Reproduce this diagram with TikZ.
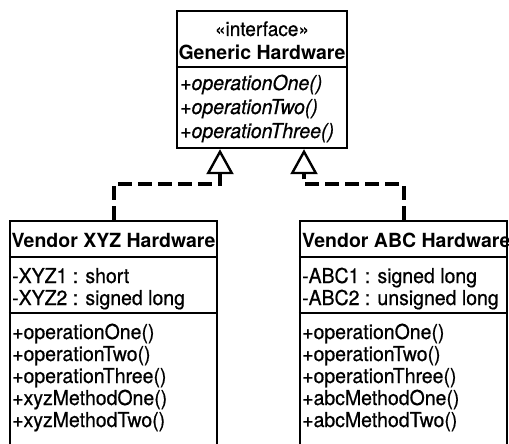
\documentclass[tikz,border=0pt]{standalone}
\usepackage{fontspec}
\setmainfont{TeX Gyre Heros}
\newfontfamily\memberfont{TeX Gyre Heros}[FakeStretch=0.95, FakeBold=0.6]
\usetikzlibrary{arrows.meta}

\tikzset{
  classbox/.style={draw, line width=2.4pt, inner sep=0pt, rectangle},
  divider/.style={line width=2pt},
  member/.style={anchor=base west, inner sep=0pt, font=\memberfont\fontsize{20.5}{23}\selectfont},
  opitalic/.style={member, font=\memberfont\fontsize{20.5}{23}\selectfont\itshape},
  titletext/.style={anchor=base, inner sep=0pt, font=\fontsize{19.5}{22}\selectfont\bfseries},
  stereo/.style={anchor=base, inner sep=0pt, font=\memberfont\fontsize{20}{22}\selectfont},
  realize/.style={line width=4pt, dash pattern=on 14pt off 6pt,
    -{Triangle[open, length=25pt, width=27pt, line width=2.4pt]}},
}

\begin{document}
\begin{tikzpicture}[x=1pt, y=-1pt]
\useasboundingbox (0,0) rectangle (509,444);
\clip (0,0) rectangle (509,444);

% interface class
\node[classbox, minimum width=170pt, minimum height=137pt] (gen) at (262,79.5) {};
\path (0,67) coordinate (gdiv);
\draw[divider] (gen.west |- gdiv) -- (gen.east |- gdiv);
\node[stereo] (gster) at (262,36) {«interface»};
\node[titletext] (gname) at (262,60) {Generic Hardware};
\node[opitalic] (gop1) at (180,90) {+operationOne()};
\node[opitalic] (gop2) at (180,114) {+operationTwo()};
\node[opitalic] (gop3) at (180,138) {+operationThree()};

% vendor XYZ class
\node[classbox, minimum width=207pt, minimum height=249pt] (xyz) at (113.5,345.5) {};
\path (0,257) coordinate (xdiv1) (0,313) coordinate (xdiv2);
\draw[divider] (xyz.west |- xdiv1) -- (xyz.east |- xdiv1);
\draw[divider] (xyz.west |- xdiv2) -- (xyz.east |- xdiv2);
\node[titletext] (xname) at (113.5,247) {Vendor XYZ Hardware};
\node[member] (xa1) at (12,283) {-XYZ1 : short};
\node[member] (xa2) at (12,305) {-XYZ2 : signed long};
\node[member] (xm1) at (12,339) {+operationOne()};
\node[member] (xm2) at (12,361) {+operationTwo()};
\node[member] (xm3) at (12,383) {+operationThree()};
\node[member] (xm4) at (12,405) {+xyzMethodOne()};
\node[member] (xm5) at (12,427) {+xyzMethodTwo()};

% vendor ABC class
\node[classbox, minimum width=207pt, minimum height=249pt] (abc) at (403.5,345.5) {};
\draw[divider] (abc.west |- xdiv1) -- (abc.east |- xdiv1);
\draw[divider] (abc.west |- xdiv2) -- (abc.east |- xdiv2);
\node[titletext, anchor=base west] (aname) at (302,247) {Vendor ABC Hardware};
\node[member] (aa1) at (302,283) {-ABC1 : signed long};
\node[member] (aa2) at (302,305) {-ABC2 : unsigned long};
\node[member] (am1) at (302,339) {+operationOne()};
\node[member] (am2) at (302,361) {+operationTwo()};
\node[member] (am3) at (302,383) {+operationThree()};
\node[member] (am4) at (302,405) {+abcMethodOne()};
\node[member] (am5) at (302,427) {+abcMethodTwo()};

% realization connectors
\draw[realize] (xyz.north) |- ([xshift=-42pt, yshift=-35pt]gen.south) -- ([xshift=-42pt]gen.south);
\draw[realize] (abc.north) |- ([xshift=42pt, yshift=-35pt]gen.south) -- ([xshift=42pt]gen.south);
\end{tikzpicture}
\end{document}
